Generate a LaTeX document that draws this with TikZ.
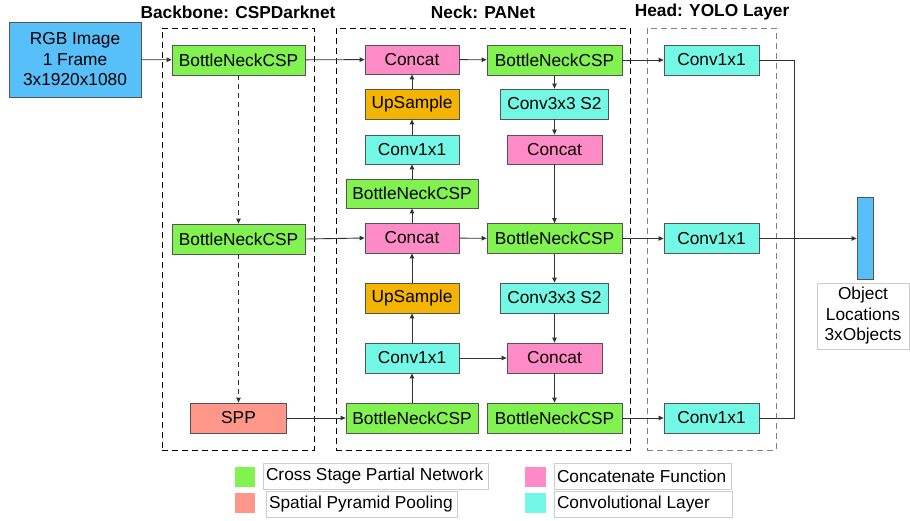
\documentclass[tikz,border=0pt]{standalone}
\usepackage{fontspec}
\setmainfont{Liberation Sans}
\usetikzlibrary{arrows.meta}

\definecolor{cspgreen}{HTML}{82F251}
\definecolor{catpink}{HTML}{FF8BC6}
\definecolor{uporange}{HTML}{F5B400}
\definecolor{convcyan}{HTML}{73F8E5}
\definecolor{sppsalmon}{HTML}{FF968A}
\definecolor{imgblue}{HTML}{57BFF9}
\definecolor{edgegray}{HTML}{555555}
\definecolor{linegray}{HTML}{333333}
\definecolor{legendgray}{HTML}{CCCCCC}

\newcommand\diagfont{\fontsize{17.3pt}{20.5pt}\selectfont}
% left-aligned legend text in a box of fixed width
\newcommand\legtext[2]{\makebox[#1][l]{#2}}

\tikzset{
  block/.style={draw=edgegray, line width=0.8pt, inner sep=0pt, font=\diagfont,
                minimum height=30pt, align=center},
  csp/.style={block, fill=cspgreen},
  cat/.style={block, fill=catpink},
  ups/.style={block, fill=uporange},
  conv/.style={block, fill=convcyan},
  spp/.style={block, fill=sppsalmon},
  groupbox/.style={draw=#1, line width=0.9pt, dash pattern=on 6pt off 4pt,
                   inner sep=0pt, minimum height=422pt},
  grouptitle/.style={font=\diagfont\bfseries, inner sep=0pt},
  flow/.style={draw=linegray, line width=0.9pt, -{Triangle[length=5pt,width=4.5pt]}},
  plainline/.style={draw=linegray, line width=0.9pt},
  dflow/.style={flow, dash pattern=on 5pt off 4pt},
  swatch/.style={draw=none, minimum width=21pt, minimum height=20pt, inner sep=0pt},
  legendlabel/.style={draw=legendgray, line width=0.6pt, fill=white, font=\diagfont,
                      inner xsep=3pt, inner ysep=0pt, minimum height=26pt},
}

\begin{document}
\begin{tikzpicture}[x=1pt, y=-1pt]
\useasboundingbox (0,0) rectangle (910,520);

% stage frames and titles
\node[groupbox=black, minimum width=152pt] (bbframe) at (238,239) {};
\node[groupbox=black, minimum width=294pt] (neckframe) at (483,239) {};
\node[groupbox=gray, minimum width=129pt] (headframe) at (711.5,239) {};
\node[grouptitle] at (238,12) {Backbone: CSPDarknet};
\node[grouptitle] at (483,12) {Neck: PANet};
\node[grouptitle] at (712,12) {Head: YOLO Layer};

% input
\node[block, fill=imgblue, minimum width=132pt, minimum height=75pt] (img) at (75,59.5)
  {RGB Image\\1 Frame\\3x1920x1080};

% backbone
\node[csp, minimum width=133pt] (bb1) at (238.5,60) {BottleNeckCSP};
\node[csp, minimum width=133pt] (bb2) at (238.5,239) {BottleNeckCSP};
\node[spp, minimum width=96pt] (spp) at (238.5,418) {SPP};

% neck, upward path
\node[cat, minimum width=94pt, minimum height=29pt] (catA) at (412,59.5) {Concat};
\node[ups, minimum width=94pt] (upA) at (412,104) {UpSample};
\node[conv, minimum width=94pt, minimum height=29pt] (cvA) at (412,149.5) {Conv1x1};
\node[csp, minimum width=132pt, minimum height=29pt] (nkA) at (412,193.5) {BottleNeckCSP};
\node[cat, minimum width=94pt] (catB) at (412,238) {Concat};
\node[ups, minimum width=94pt] (upB) at (412,298) {UpSample};
\node[conv, minimum width=94pt] (cvB) at (412,358) {Conv1x1};
\node[csp, minimum width=132pt] (nkB) at (412,418) {BottleNeckCSP};

% neck, downward path
\node[csp, minimum width=135pt] (pA) at (554.5,60) {BottleNeckCSP};
\node[conv, minimum width=108pt] (c3A) at (554.5,104) {Conv3x3 S2};
\node[cat, minimum width=95pt, minimum height=29pt] (catC) at (554.5,149.5) {Concat};
\node[csp, minimum width=135pt] (pB) at (554.5,238.5) {BottleNeckCSP};
\node[conv, minimum width=108pt] (c3B) at (554.5,298) {Conv3x3 S2};
\node[cat, minimum width=95pt] (catD) at (554.5,358) {Concat};
\node[csp, minimum width=135pt] (pC) at (554.5,418) {BottleNeckCSP};

% head
\node[conv, minimum width=95pt] (h1) at (711.5,60) {Conv1x1};
\node[conv, minimum width=95pt] (h2) at (711.5,238.5) {Conv1x1};
\node[conv, minimum width=95pt] (h3) at (711.5,418) {Conv1x1};

% output
\node[draw=edgegray, line width=0.8pt, fill=imgblue, minimum width=16pt, minimum height=82pt,
      inner sep=0pt] (out) at (865,238.5) {};
\node[draw=legendgray, line width=0.6pt, fill=white, font=\diagfont, align=center,
      minimum width=92pt, minimum height=66pt, inner sep=0pt] (outlbl) at (863,316)
  {Object\\Locations\\3xObjects};

% backbone connectors
\draw[flow] (img) -- (bb1);
\draw[dflow] (bb1) -- (bb2);
\draw[dflow] (bb2) -- (spp);
\draw[flow] (bb1) -- (catA);
\draw[flow] (bb2.east) -- (catB.west);
\draw[flow] (spp) -- (nkB);

% neck connectors, upward
\draw[flow] (nkB) -- (cvB);
\draw[flow] (cvB) -- (upB);
\draw[flow] (upB) -- (catB);
\draw[flow] (catB) -- (nkA);
\draw[flow] (nkA) -- (cvA);
\draw[flow] (cvA) -- (upA);
\draw[flow] (upA) -- (catA);

% neck connectors, downward
\draw[flow] (catA) -- (pA);
\draw[flow] (pA) -- (c3A);
\draw[flow] (c3A) -- (catC);
\draw[flow] (catC) -- (pB);
\draw[flow] (catB) -- (pB);
\draw[flow] (pB) -- (c3B);
\draw[flow] (c3B) -- (catD);
\draw[flow] (cvB) -- (catD);
\draw[flow] (catD) -- (pC);

% neck to head
\draw[flow] (pA) -- (h1);
\draw[flow] (pB) -- (h2);
\draw[flow] (pC) -- (h3);

% head outputs
\coordinate (jtop) at (794,60);
\coordinate (jbot) at (794,418);
\draw[plainline] (h1.east) -- (jtop) -- (jbot) -- (h3.east);
\draw[flow] (h2) -- (out);

% legend
\node[swatch, fill=cspgreen, minimum width=20pt] (swA) at (245,477) {};
\node[legendlabel] (lgA) at (375.5,476) {\legtext{219pt}{Cross Stage Partial Network}};
\node[swatch, fill=sppsalmon, minimum width=20pt] (swB) at (245,503) {};
\node[legendlabel] (lgB) at (361.5,504) {\legtext{185pt}{Spatial Pyramid Pooling}};
\node[swatch, fill=catpink] (swC) at (535,477) {};
\node[legendlabel] (lgC) at (642.5,476) {\legtext{171pt}{Concatenate Function}};
\node[swatch, fill=convcyan] (swD) at (535,503) {};
\node[legendlabel] (lgD) at (643,504) {\legtext{172pt}{Convolutional Layer}};
\end{tikzpicture}
\end{document}
